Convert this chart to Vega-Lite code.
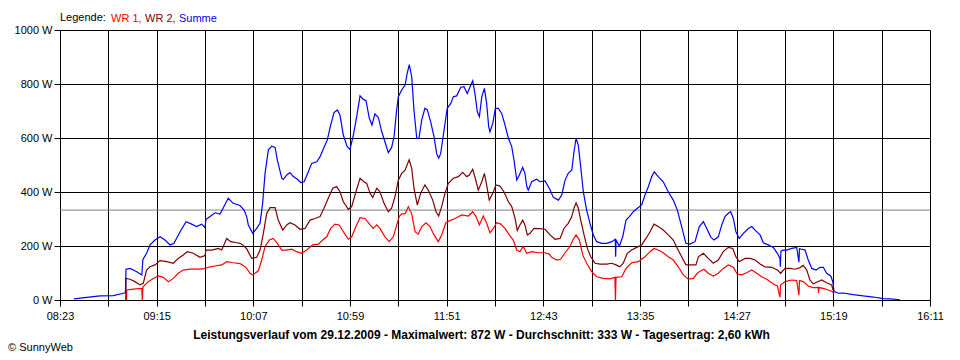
{
  "$schema": "https://vega.github.io/schema/vega-lite/v6.json",
  "width": 870,
  "height": 270,
  "autosize": {"type": "none"},
  "padding": {"left": 60, "top": 30, "right": 30, "bottom": 60},
  "background": "white",
  "title": {"text": "© SunnyWeb", "orient": "bottom", "anchor": "start", "fontSize": 11, "fontWeight": "normal", "color": "#000", "offset": 2, "dx": -6},
  "datasets": {
    "sum": [{"m":510.5,"w":4},{"m":517.4,"w":10},{"m":524.5,"w":15},{"m":531.7,"w":16},{"m":537.1,"w":25},{"m":538.2,"w":27},{"m":538.5,"w":114},{"m":540.7,"w":117},{"m":544.3,"w":105},{"m":547.0,"w":93},{"m":547.6,"w":150},{"m":549.6,"w":173},{"m":551.4,"w":204},{"m":554.1,"w":222},{"m":556.8,"w":234},{"m":559.5,"w":222},{"m":562.2,"w":204},{"m":564.3,"w":210},{"m":567.6,"w":253},{"m":570.8,"w":290},{"m":573.8,"w":281},{"m":576.5,"w":272},{"m":579.2,"w":281},{"m":581.0,"w":268},{"m":581.5,"w":298},{"m":583.7,"w":309},{"m":586.4,"w":323},{"m":589.1,"w":318},{"m":591.2,"w":346},{"m":593.5,"w":377},{"m":596.2,"w":358},{"m":599.8,"w":350},{"m":602.0,"w":333},{"m":603.4,"w":309},{"m":604.3,"w":278},{"m":606.7,"w":247},{"m":608.8,"w":265},{"m":610.6,"w":284},{"m":612.0,"w":358},{"m":613.3,"w":469},{"m":615.1,"w":556},{"m":616.9,"w":570},{"m":618.7,"w":565},{"m":619.9,"w":519},{"m":622.3,"w":451},{"m":623.1,"w":447},{"m":625.0,"w":463},{"m":626.7,"w":472},{"m":628.5,"w":457},{"m":630.7,"w":447},{"m":632.5,"w":435},{"m":634.3,"w":438},{"m":636.6,"w":475},{"m":638.4,"w":506},{"m":641.1,"w":512},{"m":642.9,"w":531},{"m":645.0,"w":565},{"m":646.8,"w":593},{"m":648.6,"w":648},{"m":650.4,"w":694},{"m":652.2,"w":704},{"m":653.6,"w":685},{"m":655.4,"w":611},{"m":657.5,"w":568},{"m":659.0,"w":558},{"m":660.8,"w":611},{"m":662.6,"w":679},{"m":664.4,"w":756},{"m":666.2,"w":743},{"m":667.6,"w":738},{"m":669.4,"w":673},{"m":670.8,"w":648},{"m":672.4,"w":689},{"m":674.2,"w":677},{"m":676.1,"w":623},{"m":677.8,"w":586},{"m":679.6,"w":546},{"m":681.4,"w":565},{"m":682.7,"w":605},{"m":684.1,"w":704},{"m":685.0,"w":753},{"m":686.8,"w":778},{"m":688.6,"w":796},{"m":689.8,"w":840},{"m":690.9,"w":872},{"m":692.2,"w":827},{"m":693.4,"w":704},{"m":694.9,"w":599},{"m":696.1,"w":599},{"m":697.6,"w":667},{"m":699.3,"w":710},{"m":700.6,"w":704},{"m":702.4,"w":660},{"m":704.2,"w":605},{"m":705.6,"w":543},{"m":706.7,"w":525},{"m":707.8,"w":543},{"m":709.2,"w":611},{"m":711.3,"w":710},{"m":713.2,"w":728},{"m":714.6,"w":753},{"m":716.4,"w":756},{"m":718.6,"w":788},{"m":720.3,"w":790},{"m":722.1,"w":765},{"m":723.6,"w":790},{"m":725.0,"w":812},{"m":726.2,"w":765},{"m":727.5,"w":697},{"m":728.6,"w":679},{"m":729.9,"w":753},{"m":731.3,"w":784},{"m":732.5,"w":728},{"m":733.6,"w":642},{"m":734.3,"w":623},{"m":735.8,"w":654},{"m":737.2,"w":710},{"m":738.8,"w":710},{"m":740.6,"w":691},{"m":742.4,"w":648},{"m":744.2,"w":599},{"m":746.0,"w":568},{"m":747.2,"w":519},{"m":748.7,"w":444},{"m":750.1,"w":463},{"m":751.9,"w":491},{"m":753.1,"w":469},{"m":754.1,"w":420},{"m":754.9,"w":407},{"m":756.7,"w":438},{"m":759.4,"w":447},{"m":761.2,"w":438},{"m":763.9,"w":441},{"m":766.2,"w":414},{"m":768.4,"w":380},{"m":771.1,"w":370},{"m":772.9,"w":389},{"m":774.7,"w":444},{"m":776.4,"w":469},{"m":778.3,"w":481},{"m":779.5,"w":549},{"m":780.6,"w":599},{"m":781.8,"w":574},{"m":783.1,"w":494},{"m":784.5,"w":401},{"m":786.3,"w":333},{"m":788.1,"w":284},{"m":789.9,"w":241},{"m":791.7,"w":216},{"m":794.4,"w":210},{"m":797.1,"w":210},{"m":799.8,"w":216},{"m":801.7,"w":225},{"m":801.9,"w":160},{"m":802.1,"w":222},{"m":803.9,"w":200},{"m":805.7,"w":234},{"m":807.5,"w":296},{"m":809.3,"w":309},{"m":811.4,"w":327},{"m":813.6,"w":340},{"m":815.9,"w":352},{"m":817.7,"w":389},{"m":819.5,"w":420},{"m":821.3,"w":457},{"m":822.7,"w":475},{"m":824.8,"w":457},{"m":827.5,"w":438},{"m":830.2,"w":401},{"m":832.9,"w":370},{"m":835.1,"w":333},{"m":837.4,"w":272},{"m":839.7,"w":210},{"m":841.9,"w":207},{"m":844.6,"w":216},{"m":846.9,"w":272},{"m":849.1,"w":290},{"m":850.9,"w":265},{"m":853.0,"w":234},{"m":854.8,"w":222},{"m":857.1,"w":234},{"m":859.0,"w":278},{"m":860.7,"w":309},{"m":862.5,"w":321},{"m":863.8,"w":327},{"m":865.2,"w":302},{"m":866.6,"w":253},{"m":868.4,"w":228},{"m":870.6,"w":247},{"m":873.3,"w":265},{"m":875.1,"w":272},{"m":876.9,"w":259},{"m":879.6,"w":241},{"m":881.3,"w":212},{"m":884.0,"w":204},{"m":886.7,"w":195},{"m":888.9,"w":173},{"m":890.3,"w":154},{"m":890.5,"w":123},{"m":890.8,"w":180},{"m":891.8,"w":185},{"m":893.9,"w":185},{"m":896.6,"w":191},{"m":899.3,"w":195},{"m":900.5,"w":140},{"m":900.8,"w":190},{"m":902.0,"w":188},{"m":903.8,"w":185},{"m":905.5,"w":148},{"m":907.4,"w":117},{"m":909.7,"w":111},{"m":911.8,"w":121},{"m":913.6,"w":121},{"m":915.4,"w":99},{"m":917.6,"w":89},{"m":918.7,"w":68},{"m":919.4,"w":31},{"m":921.7,"w":25},{"m":924.4,"w":26},{"m":929.7,"w":20},{"m":935.1,"w":15},{"m":940.5,"w":11},{"m":945.9,"w":5},{"m":949.5,"w":4},{"m":954.9,"w":1}],
    "wr2": [{"m":538.4,"w":0},{"m":538.5,"w":80},{"m":540.7,"w":77},{"m":543.3,"w":68},{"m":546.0,"w":56},{"m":547.8,"w":62},{"m":549.6,"w":111},{"m":551.4,"w":123},{"m":554.1,"w":130},{"m":556.8,"w":146},{"m":560.4,"w":142},{"m":564.0,"w":136},{"m":566.6,"w":154},{"m":569.3,"w":167},{"m":571.5,"w":179},{"m":574.7,"w":173},{"m":578.3,"w":158},{"m":581.0,"w":165},{"m":581.5,"w":185},{"m":584.6,"w":185},{"m":588.2,"w":191},{"m":590.0,"w":185},{"m":592.7,"w":228},{"m":594.8,"w":216},{"m":598.1,"w":212},{"m":599.8,"w":210},{"m":601.3,"w":204},{"m":603.4,"w":190},{"m":606.1,"w":154},{"m":608.8,"w":158},{"m":610.6,"w":185},{"m":612.4,"w":247},{"m":614.2,"w":321},{"m":616.0,"w":342},{"m":618.7,"w":342},{"m":620.4,"w":296},{"m":622.8,"w":259},{"m":625.0,"w":278},{"m":626.7,"w":286},{"m":629.4,"w":278},{"m":632.1,"w":262},{"m":634.8,"w":265},{"m":637.5,"w":296},{"m":640.2,"w":302},{"m":642.9,"w":309},{"m":645.0,"w":340},{"m":647.3,"w":377},{"m":649.7,"w":414},{"m":651.8,"w":420},{"m":653.6,"w":401},{"m":655.4,"w":364},{"m":658.1,"w":336},{"m":659.9,"w":346},{"m":662.2,"w":401},{"m":664.4,"w":451},{"m":666.5,"w":438},{"m":668.0,"w":432},{"m":669.8,"w":395},{"m":671.2,"w":380},{"m":673.4,"w":414},{"m":675.1,"w":401},{"m":677.3,"w":358},{"m":679.6,"w":327},{"m":681.4,"w":340},{"m":683.2,"w":383},{"m":685.0,"w":444},{"m":686.8,"w":469},{"m":688.6,"w":481},{"m":690.8,"w":519},{"m":692.2,"w":488},{"m":693.4,"w":414},{"m":695.2,"w":352},{"m":697.0,"w":395},{"m":699.3,"w":426},{"m":701.1,"w":407},{"m":703.5,"w":370},{"m":705.3,"w":327},{"m":706.7,"w":311},{"m":708.3,"w":346},{"m":710.1,"w":395},{"m":711.9,"w":432},{"m":714.6,"w":451},{"m":717.3,"w":457},{"m":719.6,"w":473},{"m":721.8,"w":457},{"m":723.2,"w":463},{"m":725.0,"w":484},{"m":726.4,"w":451},{"m":728.0,"w":407},{"m":729.9,"w":438},{"m":731.3,"w":469},{"m":732.5,"w":426},{"m":733.9,"w":370},{"m":735.8,"w":395},{"m":737.5,"w":426},{"m":739.7,"w":422},{"m":741.8,"w":401},{"m":744.2,"w":364},{"m":746.0,"w":346},{"m":747.8,"w":302},{"m":749.0,"w":257},{"m":750.4,"w":278},{"m":751.9,"w":296},{"m":753.1,"w":278},{"m":754.4,"w":241},{"m":755.8,"w":247},{"m":758.0,"w":265},{"m":761.2,"w":264},{"m":763.9,"w":262},{"m":766.6,"w":241},{"m":769.3,"w":225},{"m":772.0,"w":228},{"m":774.1,"w":265},{"m":776.4,"w":284},{"m":778.3,"w":309},{"m":779.5,"w":340},{"m":780.6,"w":360},{"m":781.8,"w":340},{"m":783.1,"w":296},{"m":784.9,"w":241},{"m":786.7,"w":191},{"m":788.5,"w":160},{"m":790.8,"w":136},{"m":793.5,"w":133},{"m":797.1,"w":133},{"m":799.8,"w":136},{"m":802.1,"w":130},{"m":804.2,"w":123},{"m":806.0,"w":136},{"m":808.2,"w":173},{"m":810.5,"w":185},{"m":813.2,"w":195},{"m":815.9,"w":204},{"m":818.2,"w":228},{"m":820.4,"w":253},{"m":822.5,"w":281},{"m":824.8,"w":272},{"m":827.5,"w":259},{"m":830.2,"w":241},{"m":832.9,"w":222},{"m":835.1,"w":191},{"m":837.4,"w":160},{"m":839.7,"w":130},{"m":842.8,"w":130},{"m":845.1,"w":130},{"m":846.4,"w":160},{"m":849.1,"w":173},{"m":851.7,"w":154},{"m":854.4,"w":136},{"m":857.1,"w":148},{"m":859.8,"w":179},{"m":862.5,"w":195},{"m":864.9,"w":191},{"m":866.6,"w":160},{"m":868.4,"w":142},{"m":871.5,"w":154},{"m":874.2,"w":154},{"m":876.9,"w":148},{"m":879.6,"w":133},{"m":882.2,"w":123},{"m":885.8,"w":121},{"m":888.9,"w":111},{"m":890.7,"w":99},{"m":893.0,"w":117},{"m":895.7,"w":117},{"m":898.4,"w":114},{"m":901.1,"w":120},{"m":902.8,"w":128},{"m":904.7,"w":111},{"m":906.4,"w":74},{"m":908.2,"w":60},{"m":910.0,"w":66},{"m":912.7,"w":74},{"m":915.4,"w":64},{"m":918.1,"w":56},{"m":918.8,"w":37}],
    "wr1": [{"m":538.8,"w":0},{"m":538.9,"w":37},{"m":542.4,"w":40},{"m":547.0,"w":43},{"m":547.3,"w":0},{"m":547.6,"w":48},{"m":548.7,"w":56},{"m":550.5,"w":68},{"m":553.2,"w":80},{"m":555.9,"w":89},{"m":558.6,"w":84},{"m":561.3,"w":68},{"m":564.0,"w":80},{"m":566.6,"w":99},{"m":569.3,"w":111},{"m":572.9,"w":114},{"m":576.5,"w":114},{"m":580.1,"w":115},{"m":583.7,"w":123},{"m":586.4,"w":126},{"m":590.0,"w":130},{"m":592.7,"w":142},{"m":596.2,"w":138},{"m":599.8,"w":135},{"m":602.5,"w":123},{"m":603.4,"w":117},{"m":605.2,"w":99},{"m":606.7,"w":93},{"m":609.7,"w":108},{"m":611.5,"w":148},{"m":613.3,"w":198},{"m":615.6,"w":222},{"m":617.7,"w":228},{"m":619.9,"w":210},{"m":622.3,"w":185},{"m":625.0,"w":185},{"m":627.6,"w":188},{"m":630.3,"w":179},{"m":633.0,"w":173},{"m":635.7,"w":185},{"m":638.9,"w":204},{"m":642.0,"w":207},{"m":644.3,"w":222},{"m":646.5,"w":234},{"m":648.6,"w":265},{"m":650.9,"w":281},{"m":653.2,"w":278},{"m":655.4,"w":253},{"m":658.1,"w":225},{"m":659.9,"w":234},{"m":662.2,"w":272},{"m":664.4,"w":305},{"m":667.1,"w":302},{"m":669.8,"w":278},{"m":671.5,"w":265},{"m":673.4,"w":278},{"m":675.1,"w":265},{"m":677.8,"w":234},{"m":680.1,"w":216},{"m":682.3,"w":234},{"m":684.4,"w":284},{"m":685.5,"w":309},{"m":686.8,"w":319},{"m":688.6,"w":319},{"m":690.4,"w":346},{"m":692.2,"w":319},{"m":694.0,"w":253},{"m":695.7,"w":244},{"m":697.6,"w":272},{"m":699.9,"w":286},{"m":702.0,"w":272},{"m":704.2,"w":241},{"m":706.5,"w":216},{"m":708.3,"w":241},{"m":710.6,"w":286},{"m":712.8,"w":294},{"m":715.5,"w":302},{"m":719.1,"w":315},{"m":722.6,"w":311},{"m":725.0,"w":327},{"m":726.8,"w":309},{"m":728.6,"w":278},{"m":730.7,"w":311},{"m":732.5,"w":284},{"m":734.3,"w":249},{"m":736.1,"w":265},{"m":737.9,"w":286},{"m":740.1,"w":281},{"m":742.4,"w":265},{"m":744.7,"w":241},{"m":746.8,"w":222},{"m":748.7,"w":185},{"m":750.4,"w":179},{"m":752.2,"w":198},{"m":754.1,"w":173},{"m":756.7,"w":179},{"m":760.3,"w":175},{"m":763.9,"w":175},{"m":766.2,"w":170},{"m":767.5,"w":158},{"m":770.2,"w":148},{"m":772.3,"w":151},{"m":774.7,"w":175},{"m":777.3,"w":198},{"m":779.1,"w":225},{"m":780.6,"w":241},{"m":782.4,"w":222},{"m":784.2,"w":167},{"m":786.3,"w":136},{"m":789.0,"w":105},{"m":791.7,"w":86},{"m":795.3,"w":80},{"m":798.9,"w":78},{"m":801.5,"w":84},{"m":801.8,"w":0},{"m":802.1,"w":84},{"m":805.2,"w":86},{"m":807.5,"w":117},{"m":810.5,"w":138},{"m":814.1,"w":142},{"m":817.7,"w":160},{"m":820.4,"w":179},{"m":822.5,"w":191},{"m":824.8,"w":185},{"m":827.5,"w":175},{"m":830.2,"w":160},{"m":832.9,"w":148},{"m":835.6,"w":123},{"m":838.3,"w":93},{"m":841.0,"w":77},{"m":843.7,"w":80},{"m":845.8,"w":99},{"m":846.9,"w":105},{"m":849.4,"w":114},{"m":851.7,"w":99},{"m":854.4,"w":89},{"m":857.1,"w":99},{"m":859.8,"w":117},{"m":862.5,"w":130},{"m":865.2,"w":121},{"m":867.3,"w":96},{"m":869.7,"w":93},{"m":872.4,"w":101},{"m":875.1,"w":111},{"m":877.8,"w":99},{"m":880.5,"w":86},{"m":883.2,"w":77},{"m":886.7,"w":59},{"m":888.9,"w":52},{"m":890.3,"w":10},{"m":890.6,"w":55},{"m":893.0,"w":68},{"m":896.6,"w":74},{"m":899.3,"w":72},{"m":900.5,"w":18},{"m":900.8,"w":72},{"m":902.8,"w":68},{"m":905.5,"w":52},{"m":908.2,"w":46},{"m":910.9,"w":47},{"m":911.0,"w":26},{"m":911.3,"w":46},{"m":913.6,"w":43},{"m":916.3,"w":37},{"m":918.7,"w":31},{"m":919.0,"w":25}],
    "avg": [{"w": 333}]
  },
  "encoding": {
    "x": {
      "field": "m", "type": "quantitative",
      "scale": {"domain": [503, 971], "nice": false, "zero": false},
      "axis": {
        "title": "Leistungsverlauf vom 29.12.2009 - Maximalwert: 872 W - Durchschnitt: 333 W - Tagesertrag: 2,60 kWh",
        "titleFontWeight": "bold", "titleFontSize": 12, "titleColor": "#000", "titlePadding": 8, "titleX": 421,
        "values": [503,529,555,581,607,633,659,685,711,737,763,789,815,841,867,893,919,945,971],
        "labelExpr": "(datum.value-503)%52==0 ? (datum.value<600?'0':'') + floor(datum.value/60) + ':' + (datum.value%60<10?'0':'') + (datum.value%60) : ''",
        "labelFlush": false, "labelOverlap": false, "labelPadding": 4, "tickSize": 6
      }
    },
    "y": {
      "field": "w", "type": "quantitative",
      "scale": {"domain": [0, 1000], "nice": false},
      "axis": {
        "title": null,
        "values": [0,200,400,600,800,1000],
        "labelExpr": "datum.value + ' W'",
        "labelPadding": 2, "tickSize": 6
      }
    }
  },
  "layer": [
    {
      "data": {"name": "avg"},
      "mark": {"type": "rule", "color": "#808080", "strokeWidth": 1},
      "encoding": {"x": {"value": 0}, "x2": {"value": 870}}
    },
    {
      "data": {"name": "wr1"},
      "mark": {"type": "line", "strokeWidth": 1.2, "interpolate": "linear"},
      "encoding": {
        "color": {
          "datum": "WR 1", "type": "nominal",
          "scale": {"domain": ["WR 1", "WR 2", "Summe"], "range": ["#ff0000", "#800000", "#0000ff"]},
          "legend": {
            "orient": "top", "direction": "horizontal", "offset": 6, "padding": 0,
            "title": "Legende:", "titleOrient": "left", "titleFontWeight": "normal", "titleFontSize": 11, "titleColor": "#000", "titlePadding": 4,
            "labelFontSize": 11,
            "labelExpr": "datum.value == 'Summe' ? 'Summe' : datum.value + ','",
            "labelColor": {"expr": "datum.value == 'WR 1' ? '#ff0000' : datum.value == 'WR 2' ? '#800000' : '#0000ff'"},
            "symbolSize": 0, "symbolStrokeWidth": 0, "symbolOpacity": 0,
            "labelOffset": -10, "columnPadding": 2
          }
        }
      }
    },
    {
      "data": {"name": "wr2"},
      "mark": {"type": "line", "strokeWidth": 1.2, "interpolate": "linear"},
      "encoding": {"color": {"datum": "WR 2", "type": "nominal"}}
    },
    {
      "data": {"name": "sum"},
      "mark": {"type": "line", "strokeWidth": 1.2, "interpolate": "linear"},
      "encoding": {"color": {"datum": "Summe", "type": "nominal"}}
    }
  ],
  "config": {
    "font": "Liberation Sans",
    "view": {"stroke": null},
    "axis": {
      "gridColor": "#000", "gridOpacity": 1, "gridWidth": 1,
      "domainColor": "#000", "domainWidth": 1,
      "tickColor": "#000", "tickWidth": 1,
      "labelColor": "#000", "labelFontSize": 11, "labelFont": "Liberation Sans"
    },
    "legend": {"labelFont": "Liberation Sans", "titleFont": "Liberation Sans"},
    "title": {"font": "Liberation Sans"}
  }
}
